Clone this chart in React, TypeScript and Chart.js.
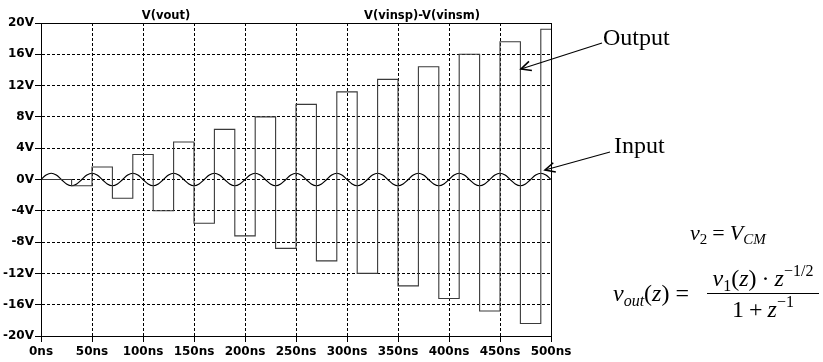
import React, { useEffect, useRef } from "react";
import { Chart, registerables } from "chart.js";

Chart.register(...registerables);

// ---------------- data ----------------
// sample-and-hold output: value holds from each time until the next one
const stepTimesNs = [0, 30, 50, 70, 90, 110, 130, 150, 170, 190, 210, 230, 250, 270, 290, 310, 330, 350, 370, 390, 410, 430, 450, 470, 490, 500];
const outputV = [0, -0.8, 1.6, -2.4, 3.2, -4.0, 4.8, -5.6, 6.4, -7.2, 8.0, -8.8, 9.6, -10.4, 11.2, -12.0, 12.8, -13.6, 14.4, -15.2, 16.0, -16.8, 17.6, -18.4, 19.2, 19.2];

// differential input, read every 5 ns
const inputTimesNs = [
  0, 5, 10, 15, 20, 25, 30, 35, 40, 45, 50, 55, 60, 65, 70, 75, 80, 85, 90, 95,
  100, 105, 110, 115, 120, 125, 130, 135, 140, 145, 150, 155, 160, 165, 170, 175, 180, 185, 190, 195,
  200, 205, 210, 215, 220, 225, 230, 235, 240, 245, 250, 255, 260, 265, 270, 275, 280, 285, 290, 295,
  300, 305, 310, 315, 320, 325, 330, 335, 340, 345, 350, 355, 360, 365, 370, 375, 380, 385, 390, 395,
  400, 405, 410, 415, 420, 425, 430, 435, 440, 445, 450, 455, 460, 465, 470, 475, 480, 485, 490, 495, 500,
];
const inputV = [
  0, 0.57, 0.8, 0.57, 0, -0.57, -0.8, -0.57, 0, 0.57, 0.8, 0.57, 0, -0.57, -0.8, -0.57, 0, 0.57, 0.8, 0.57,
  0, -0.57, -0.8, -0.57, 0, 0.57, 0.8, 0.57, 0, -0.57, -0.8, -0.57, 0, 0.57, 0.8, 0.57, 0, -0.57, -0.8, -0.57,
  0, 0.57, 0.8, 0.57, 0, -0.57, -0.8, -0.57, 0, 0.57, 0.8, 0.57, 0, -0.57, -0.8, -0.57, 0, 0.57, 0.8, 0.57,
  0, -0.57, -0.8, -0.57, 0, 0.57, 0.8, 0.57, 0, -0.57, -0.8, -0.57, 0, 0.57, 0.8, 0.57, 0, -0.57, -0.8, -0.57,
  0, 0.57, 0.8, 0.57, 0, -0.57, -0.8, -0.57, 0, 0.57, 0.8, 0.57, 0, -0.57, -0.8, -0.57, 0, 0.57, 0.8, 0.57, 0,
];

const xTicksNs = [0, 50, 100, 150, 200, 250, 300, 350, 400, 450, 500];
const yTicksV = [-20, -16, -12, -8, -4, 0, 4, 8, 12, 16, 20];
const traceNames = ["V(vout)", "V(vinsp)-V(vinsm)"];
const annotationLabels = ["Output", "Input"];

// ---------------- styles ----------------
const W = 823;
const H = 362;
const TICK_FONT = { family: "'DejaVu Sans', sans-serif", size: 12, weight: "bold" as const };
const SERIF = "'Liberation Serif', 'Times New Roman', serif";

const framePlugin = {
  id: "frame",
  afterDraw(chart: any) {
    const { ctx, chartArea: a } = chart;
    ctx.save();
    ctx.setLineDash([]);
    ctx.strokeStyle = "#000";
    ctx.lineWidth = 1;
    ctx.strokeRect(Math.round(a.left) + 0.5, Math.round(a.top) + 0.5, Math.round(a.right - a.left), Math.round(a.bottom - a.top));
    ctx.restore();
  },
};

function arrowHead(tipX: number, tipY: number, fromX: number, fromY: number, len = 11, ang = 0.45) {
  const dx = fromX - tipX;
  const dy = fromY - tipY;
  const d = Math.hypot(dx, dy);
  const ux = dx / d;
  const uy = dy / d;
  const p = (s: number) => {
    const c = Math.cos(s * ang);
    const sn = Math.sin(s * ang);
    return [tipX + len * (ux * c - uy * sn), tipY + len * (ux * sn + uy * c)];
  };
  const a = p(1);
  const b = p(-1);
  return `${a[0]},${a[1]} ${tipX},${tipY} ${b[0]},${b[1]}`;
}

export default function App() {
  const canvasRef = useRef<HTMLCanvasElement | null>(null);

  useEffect(() => {
    if (!canvasRef.current) return;
    const chart = new Chart(canvasRef.current, {
      type: "line",
      data: {
        datasets: [
          {
            label: traceNames[0],
            data: stepTimesNs.map((t, i) => ({ x: t, y: outputV[i] })),
            stepped: "before",
            borderColor: "#3a3a3a",
            borderWidth: 1.1,
            pointRadius: 0,
            fill: false,
          },
          {
            label: traceNames[1],
            data: inputTimesNs.map((t, i) => ({ x: t, y: inputV[i] })),
            borderColor: "#000",
            borderWidth: 1.2,
            pointRadius: 0,
            cubicInterpolationMode: "monotone",
            fill: false,
          },
        ],
      },
      options: {
        animation: false,
        responsive: false,
        layout: { padding: { left: 0, top: 23, right: 272, bottom: 0 } },
        plugins: { legend: { display: false }, tooltip: { enabled: false }, title: { display: false } },
        scales: {
          x: {
            type: "linear",
            min: 0,
            max: 500,
            afterBuildTicks: (s: any) => {
              s.ticks = xTicksNs.map((v) => ({ value: v }));
            },
            afterFit: (s: any) => {
              s.height = 26;
            },
            ticks: {
              autoSkip: false,
              maxRotation: 0,
              padding: 3,
              color: "#000",
              font: TICK_FONT,
              callback: (v: any) => `${v}ns`,
            },
            grid: { color: "#000", lineWidth: 1, tickLength: 6, tickBorderDash: [], tickColor: "#000" },
            border: { display: true, color: "#000", width: 1, dash: [3, 2] },
          },
          y: {
            type: "linear",
            min: -20,
            max: 20,
            afterBuildTicks: (s: any) => {
              s.ticks = yTicksV.map((v) => ({ value: v }));
            },
            afterFit: (s: any) => {
              s.width = 41;
            },
            ticks: {
              autoSkip: false,
              padding: 1,
              color: "#000",
              font: TICK_FONT,
              callback: (v: any) => `${v}V`,
            },
            grid: { color: "#000", lineWidth: 1, tickLength: 6, tickBorderDash: [], tickColor: "#000" },
            border: { display: true, color: "#000", width: 1, dash: [3, 2] },
          },
        },
      },
      plugins: [framePlugin],
    } as any);
    return () => chart.destroy();
  }, []);

  const outFrom = [602, 43];
  const outTip = [521, 69];
  const inFrom = [610, 152];
  const inTip = [545, 170];

  return (
    <div style={{ position: "absolute", left: 0, top: 0, width: W, height: H, background: "#fff", overflow: "hidden" }}>
      <canvas ref={canvasRef} width={W} height={H} style={{ position: "absolute", left: 0, top: 0, width: W, height: H }} />
      <svg width={W} height={H} style={{ position: "absolute", left: 0, top: 0, pointerEvents: "none" }}>
        <g fontFamily="'DejaVu Sans', sans-serif" fontWeight="bold" fontSize="11.5" fill="#000" textAnchor="middle">
          <text x="166" y="19">{traceNames[0]}</text>
          <text x="422" y="19">{traceNames[1]}</text>
        </g>
        <g stroke="#000" strokeWidth="1.1" fill="none">
          <line x1={outFrom[0]} y1={outFrom[1]} x2={outTip[0]} y2={outTip[1]} />
          <polyline points={arrowHead(outTip[0], outTip[1], outFrom[0], outFrom[1])} strokeWidth="1.6" />
          <line x1={inFrom[0]} y1={inFrom[1]} x2={inTip[0]} y2={inTip[1]} />
          <polyline points={arrowHead(inTip[0], inTip[1], inFrom[0], inFrom[1])} strokeWidth="1.6" />
        </g>
        <g fontFamily={SERIF} fill="#000">
          <text x="603" y="45" fontSize="24">{annotationLabels[0]}</text>
          <text x="614" y="153" fontSize="24">{annotationLabels[1]}</text>

          <text x="690" y="240" fontSize="22">
            <tspan fontStyle="italic">v</tspan>
            <tspan fontSize="15" dy="4">2</tspan>
            <tspan dy="-4" dx="5">=</tspan>
            <tspan dx="5" fontStyle="italic">V</tspan>
            <tspan fontSize="15" dy="4" fontStyle="italic">CM</tspan>
          </text>

          <text x="613" y="301" fontSize="24">
            <tspan fontStyle="italic">v</tspan>
            <tspan fontSize="16" dy="5" fontStyle="italic">out</tspan>
            <tspan dy="-5">(</tspan>
            <tspan fontStyle="italic">z</tspan>
            <tspan>)</tspan>
            <tspan dx="6">=</tspan>
          </text>

          <text x="763" y="286" fontSize="24" textAnchor="middle">
            <tspan fontStyle="italic">v</tspan>
            <tspan fontSize="16" dy="5">1</tspan>
            <tspan dy="-5">(</tspan>
            <tspan fontStyle="italic">z</tspan>
            <tspan>)</tspan>
            <tspan dx="5">·</tspan>
            <tspan dx="5" fontStyle="italic">z</tspan>
            <tspan fontSize="16" dy="-10">−1/2</tspan>
          </text>
          <line x1="707" y1="293.5" x2="819" y2="293.5" stroke="#000" strokeWidth="1" />
          <text x="763" y="317" fontSize="24" textAnchor="middle">
            <tspan>1</tspan>
            <tspan dx="5">+</tspan>
            <tspan dx="5" fontStyle="italic">z</tspan>
            <tspan fontSize="16" dy="-10">−1</tspan>
          </text>
        </g>
      </svg>
    </div>
  );
}
